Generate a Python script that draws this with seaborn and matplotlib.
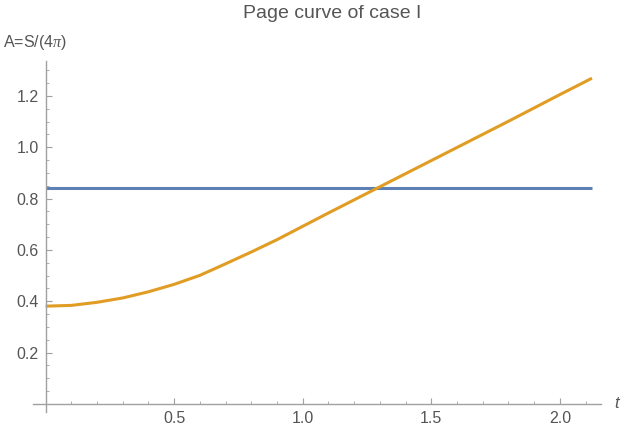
import numpy as np
import pandas as pd
import seaborn as sns
import matplotlib.pyplot as plt
from matplotlib.ticker import FixedLocator

# data
t_values = [0.0, 0.1, 0.2, 0.3, 0.4, 0.5, 0.6, 0.7, 0.8, 0.9, 1.0, 1.1,
            1.2, 1.3, 1.4, 1.5, 1.6, 1.7, 1.8, 1.9, 2.0, 2.1, 2.125]
area_curve = [0.381, 0.384, 0.396, 0.413, 0.437, 0.466, 0.501, 0.546,
              0.592, 0.640, 0.692, 0.744, 0.795, 0.846, 0.897, 0.948,
              0.999, 1.050, 1.101, 1.153, 1.205, 1.256, 1.269]
t_flat = [0.0, 2.125]
area_flat = [0.840, 0.840]

x_ticks = [0.5, 1.0, 1.5, 2.0]
y_ticks = [0.2, 0.4, 0.6, 0.8, 1.0, 1.2]
x_minor = [0.1, 0.2, 0.3, 0.4, 0.6, 0.7, 0.8, 0.9, 1.1, 1.2, 1.3, 1.4,
           1.6, 1.7, 1.8, 1.9, 2.1]
y_minor = [0.05, 0.1, 0.15, 0.25, 0.3, 0.35, 0.45, 0.5, 0.55, 0.65, 0.7,
           0.75, 0.85, 0.9, 0.95, 1.05, 1.1, 1.15, 1.25, 1.3]

sns.set_style('white')
plt.rcParams['font.family'] = ['Liberation Sans', 'DejaVu Sans']
plt.rcParams['mathtext.fontset'] = 'custom'
plt.rcParams['mathtext.it'] = 'Liberation Serif:italic'

axis_col = '#a0a0a0'
text_col = '#555555'
blue = '#5e81b5'
orange = '#e19c24'

fig = plt.figure(figsize=(6.21, 4.30), dpi=100)
ax = fig.add_axes([0.0536, 0.0426, 0.9137, 0.8156])

flat_df = pd.DataFrame({'t': t_flat, 'A': area_flat})
curve_df = pd.DataFrame({'t': t_values, 'A': area_curve})
sns.lineplot(data=flat_df, x='t', y='A', color=blue, lw=2.2, ax=ax,
             solid_capstyle='butt')
sns.lineplot(data=curve_df, x='t', y='A', color=orange, lw=2.2, ax=ax,
             solid_capstyle='butt')

ax.set_xlim(-0.048, 2.159)
ax.set_ylim(-0.030, 1.336)
ax.set_xlabel('')
ax.set_ylabel('')

for side in ['top', 'right']:
    ax.spines[side].set_visible(False)
for side in ['left', 'bottom']:
    ax.spines[side].set_position(('data', 0))
    ax.spines[side].set_color(axis_col)
    ax.spines[side].set_linewidth(1.0)

ax.xaxis.set_major_locator(FixedLocator(x_ticks))
ax.xaxis.set_minor_locator(FixedLocator(x_minor))
ax.yaxis.set_major_locator(FixedLocator(y_ticks))
ax.yaxis.set_minor_locator(FixedLocator(y_minor))
ax.set_xticklabels([f'{v:.1f}' for v in x_ticks])
ax.set_yticklabels([f'{v:.1f}' for v in y_ticks])
ax.tick_params(which='major', direction='in', length=4, width=0.8,
               color=axis_col, labelcolor=text_col, labelsize=11.5, pad=5)
ax.tick_params(which='minor', direction='in', length=2.5, width=0.6,
               color=axis_col)
ax.tick_params(axis='x', which='both', bottom=True)
ax.tick_params(axis='y', which='both', left=True)

fig.text(332 / 621, 1 - 14 / 430, 'Page curve of case I', ha='center',
         va='center', color=text_col, fontsize=14)
fig.text(3 / 621, 1 - 42 / 430, 'A=S/(4$\\pi$)', ha='left', va='center',
         color=text_col, fontsize=11.5)
fig.text(617 / 621, 1 - 404 / 430, 't', ha='center', va='center',
         color=text_col, fontsize=12, style='italic')

plt.savefig('out.png', dpi=100)
